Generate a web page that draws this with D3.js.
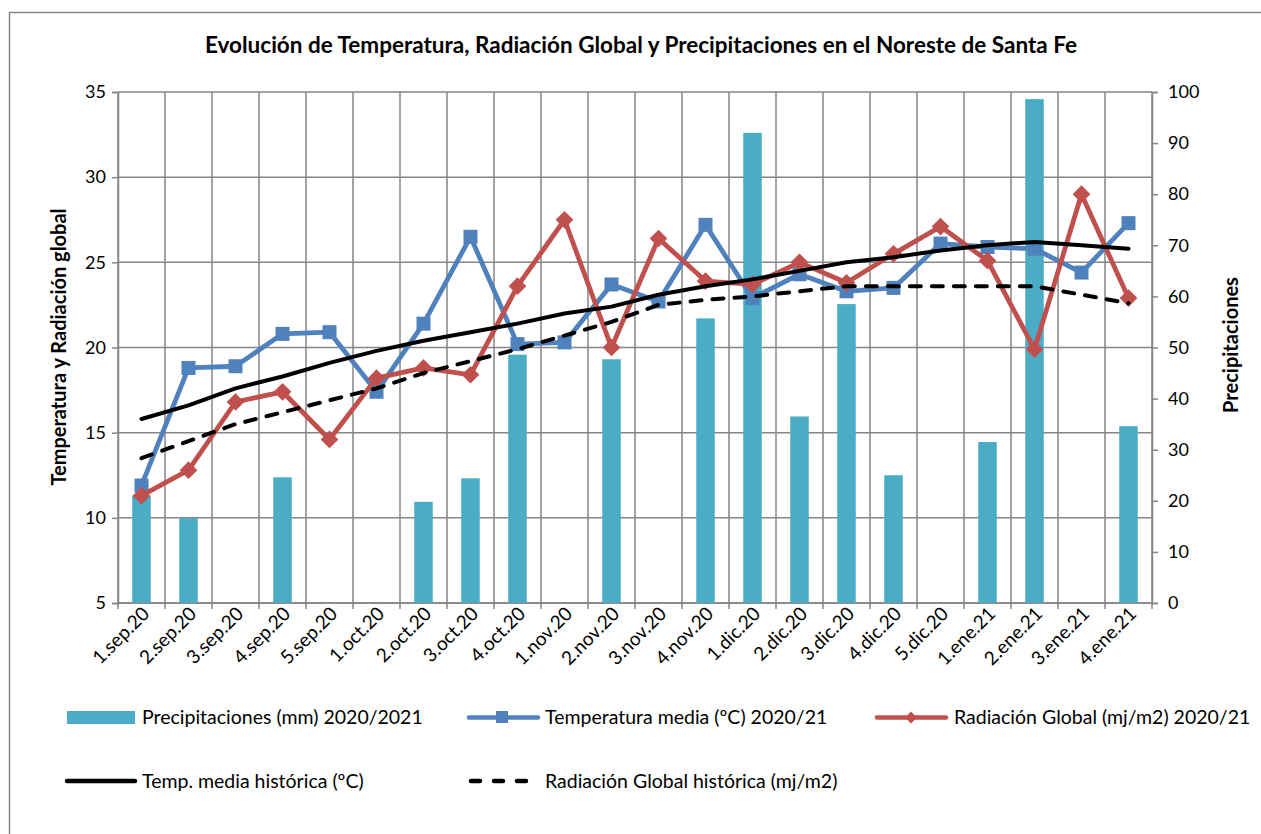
<!DOCTYPE html>
<html>
<head>
<meta charset="utf-8">
<script src="https://cdn.jsdelivr.net/npm/d3@7"></script>
<style>
  body { margin: 0; background: #fff; }
  text { font-family: Lato, "Open Sans", sans-serif; fill: #000; }
</style>
</head>
<body>
<div id="chart"></div>
<script>
var categories = ["1.sep.20","2.sep.20","3.sep.20","4.sep.20","5.sep.20","1.oct.20","2.oct.20","3.oct.20","4.oct.20",
  "1.nov.20","2.nov.20","3.nov.20","4.nov.20","1.dic.20","2.dic.20","3.dic.20","4.dic.20","5.dic.20",
  "1.ene.21","2.ene.21","3.ene.21","4.ene.21"];
var precip = [21.0,16.6,0,24.6,0,0,19.8,24.4,48.6,0,47.7,0,55.7,92.0,36.5,58.5,25.0,0,31.5,98.6,0,34.6];
var tempMedia = [11.9,18.8,18.9,20.8,20.9,17.4,21.4,26.5,20.2,20.3,23.7,22.7,27.2,22.9,24.3,23.3,23.5,26.1,25.9,25.8,24.4,27.3];
var radGlobal = [11.3,12.8,16.8,17.4,14.6,18.2,18.8,18.4,23.6,27.5,20.0,26.4,23.9,23.7,25.0,23.8,25.5,27.1,25.1,19.9,29.0,22.9];
var tempHist = [15.8,16.6,17.6,18.3,19.1,19.8,20.4,20.9,21.4,22.0,22.4,23.1,23.6,24.0,24.5,25.0,25.3,25.7,26.0,26.2,26.0,25.8];
var radHist = [13.5,14.5,15.5,16.2,16.9,17.6,18.5,19.2,19.9,20.7,21.5,22.5,22.8,23.0,23.3,23.6,23.6,23.6,23.6,23.6,23.1,22.6];
var leftTicks = [5,10,15,20,25,30,35];
var rightTicks = [0,10,20,30,40,50,60,70,80,90,100];

var width = 1261, height = 834;
var margin = {left: 118, right: 109, top: 92, bottom: 232};

var svg = d3.select("#chart")
    .append("svg")
    .attr("width", width)
    .attr("height", height);

// outer chart border
svg.append("rect")
    .attr("x", 9.5).attr("y", 12.5)
    .attr("width", 1300).attr("height", 900)
    .attr("fill", "none").attr("stroke", "#868686").attr("stroke-width", 1.5);

var x = d3.scaleBand().domain(categories).range([margin.left, width - margin.right]);
var yL = d3.scaleLinear().domain([5, 35]).range([height - margin.bottom + 1, margin.top]);
var yR = d3.scaleLinear().domain([0, 100]).range([height - margin.bottom + 1, margin.top]);

var grid = "#868686";

// horizontal gridlines
svg.append("g").selectAll("line")
    .data(leftTicks)
    .enter().append("line")
    .attr("x1", margin.left).attr("x2", width - margin.right)
    .attr("y1", function(d) { return yL(d); }).attr("y2", function(d) { return yL(d); })
    .attr("stroke", grid).attr("stroke-width", 1.5);

// vertical gridlines at category boundaries
var bounds = categories.map(function(c) { return x(c); }).concat([width - margin.right]);
svg.append("g").selectAll("line")
    .data(bounds)
    .enter().append("line")
    .attr("x1", function(d) { return d; }).attr("x2", function(d) { return d; })
    .attr("y1", margin.top).attr("y2", yL(5) + 6)
    .attr("stroke", grid).attr("stroke-width", 1.5);

// left axis
var gL = svg.append("g")
    .attr("transform", "translate(" + margin.left + ",0)")
    .call(d3.axisLeft(yL).tickValues(leftTicks).tickSize(6).tickPadding(6));
gL.select(".domain").attr("stroke", grid).attr("stroke-width", 1.5);
gL.selectAll(".tick line").attr("stroke", grid).attr("stroke-width", 1.5);
gL.selectAll(".tick text").style("font-size", "18px").style("font-family", "Lato");

// right axis
var gR = svg.append("g")
    .attr("transform", "translate(" + (width - margin.right) + ",0)")
    .call(d3.axisRight(yR).tickValues(rightTicks).tickSize(6).tickPadding(10));
gR.select(".domain").attr("stroke", grid).attr("stroke-width", 1.5);
gR.selectAll(".tick line").attr("stroke", grid).attr("stroke-width", 1.5);
gR.selectAll(".tick text").style("font-size", "18px").style("font-family", "Lato");

// x axis baseline + labels
svg.append("line")
    .attr("x1", margin.left).attr("x2", width - margin.right)
    .attr("y1", yL(5)).attr("y2", yL(5))
    .attr("stroke", grid).attr("stroke-width", 1.5);

svg.append("g").selectAll("text")
    .data(categories)
    .enter().append("text")
    .attr("text-anchor", "end")
    .attr("transform", function(d) {
        return "translate(" + (x(d) + x.bandwidth() / 2 + 9) + "," + (yL(5) + 12) + ") rotate(-45)";
    })
    .style("font-size", "19px")
    .text(function(d) { return d; });

// bars
var barW = 18.5;
svg.append("g").selectAll("rect")
    .data(precip)
    .enter().append("rect")
    .attr("x", function(d, i) { return x(categories[i]) + x.bandwidth() / 2 - barW / 2; })
    .attr("y", function(d) { return yR(d); })
    .attr("width", barW)
    .attr("height", function(d) { return yR(0) - yR(d); })
    .attr("fill", "#4BACC6");

function cx(i) { return x(categories[i]) + x.bandwidth() / 2; }
var line = d3.line().x(function(d, i) { return cx(i); }).y(function(d) { return yL(d); });

// temperatura media
svg.append("path").datum(tempMedia)
    .attr("d", line).attr("fill", "none")
    .attr("stroke", "#4F81BD").attr("stroke-width", 4.8).attr("stroke-linejoin", "round");
svg.append("g").selectAll("rect")
    .data(tempMedia)
    .enter().append("rect")
    .attr("x", function(d, i) { return cx(i) - 7; })
    .attr("y", function(d) { return yL(d) - 7; })
    .attr("width", 14).attr("height", 14)
    .attr("fill", "#4F81BD");

// radiacion global
svg.append("path").datum(radGlobal)
    .attr("d", line).attr("fill", "none")
    .attr("stroke", "#C0504D").attr("stroke-width", 4.8).attr("stroke-linejoin", "round");
svg.append("g").selectAll("path")
    .data(radGlobal)
    .enter().append("path")
    .attr("d", d3.symbol().type(d3.symbolDiamond2).size(200))
    .attr("transform", function(d, i) { return "translate(" + cx(i) + "," + yL(d) + ")"; })
    .attr("fill", "#C0504D");

// historicos
svg.append("path").datum(tempHist)
    .attr("d", line).attr("fill", "none")
    .attr("stroke", "#000").attr("stroke-width", 4).attr("stroke-linecap", "round").attr("stroke-linejoin", "round");
svg.append("path").datum(radHist)
    .attr("d", line).attr("fill", "none")
    .attr("stroke", "#000").attr("stroke-width", 4)
    .attr("stroke-dasharray", "11,11").attr("stroke-linecap", "round");

// title
svg.append("text")
    .attr("x", 641).attr("y", 53)
    .attr("text-anchor", "middle")
    .style("font-size", "22.5px").style("font-weight", "bold")
    .text("Evolución de Temperatura, Radiación Global y Precipitaciones en el Noreste de Santa Fe");

// axis titles
svg.append("text")
    .attr("transform", "translate(66,347) rotate(-90)")
    .attr("text-anchor", "middle")
    .style("font-size", "20px").style("font-weight", "bold")
    .text("Temperatura y Radiación global");
svg.append("text")
    .attr("transform", "translate(1238,345) rotate(-90)")
    .attr("text-anchor", "middle")
    .style("font-size", "20px").style("font-weight", "bold")
    .text("Precipitaciones");

// legend
var lg = svg.append("g").style("font-size", "19.5px");
lg.append("rect").attr("x", 67).attr("y", 711).attr("width", 68).attr("height", 13).attr("fill", "#4BACC6");
lg.append("text").attr("x", 142).attr("y", 724).text("Precipitaciones (mm) 2020/2021");

lg.append("line").attr("x1", 469).attr("x2", 538).attr("y1", 717.5).attr("y2", 717.5)
    .attr("stroke", "#4F81BD").attr("stroke-width", 4.5).attr("stroke-linecap", "round");
lg.append("rect").attr("x", 496).attr("y", 711).attr("width", 12).attr("height", 12).attr("fill", "#4F81BD");
lg.append("text").attr("x", 545).attr("y", 724).text("Temperatura media (ºC) 2020/21");

lg.append("line").attr("x1", 877).attr("x2", 946).attr("y1", 717.5).attr("y2", 717.5)
    .attr("stroke", "#C0504D").attr("stroke-width", 4.5).attr("stroke-linecap", "round");
lg.append("path").attr("d", d3.symbol().type(d3.symbolDiamond2).size(90))
    .attr("transform", "translate(911,717.5)").attr("fill", "#C0504D");
lg.append("text").attr("x", 954).attr("y", 724).text("Radiación Global (mj/m2) 2020/21");

lg.append("line").attr("x1", 67).attr("x2", 135).attr("y1", 781).attr("y2", 781)
    .attr("stroke", "#000").attr("stroke-width", 4.5).attr("stroke-linecap", "round");
lg.append("text").attr("x", 142).attr("y", 788).text("Temp. media histórica (ºC)");

lg.append("line").attr("x1", 471).attr("x2", 535).attr("y1", 781).attr("y2", 781)
    .attr("stroke", "#000").attr("stroke-width", 4.5)
    .attr("stroke-dasharray", "9,14").attr("stroke-linecap", "round");
lg.append("text").attr("x", 545).attr("y", 788).text("Radiación Global histórica (mj/m2)");
</script>
</body>
</html>
